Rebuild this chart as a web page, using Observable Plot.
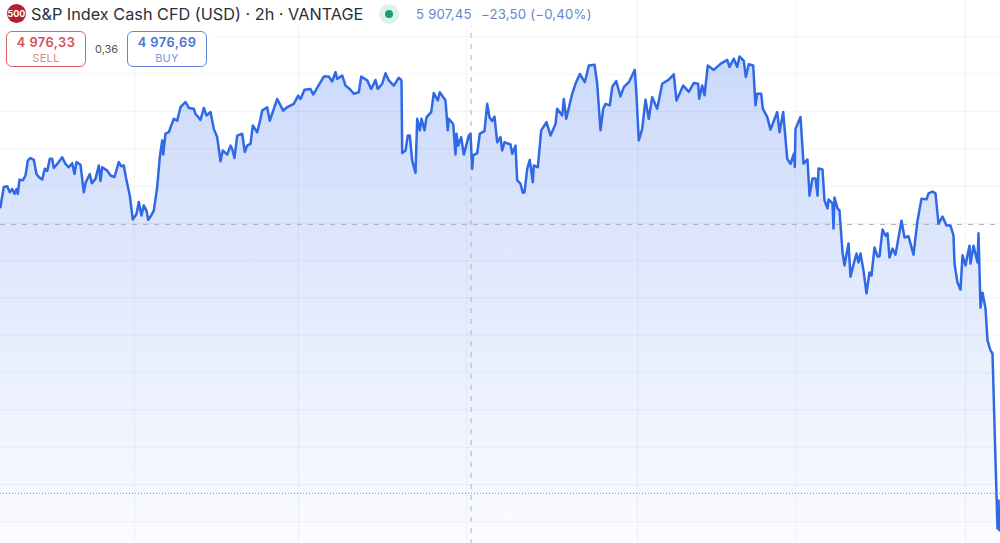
<!DOCTYPE html>
<html>
<head>
<meta charset="utf-8">
<script src="https://cdn.jsdelivr.net/npm/d3@7"></script>
<script src="https://cdn.jsdelivr.net/npm/@observablehq/plot@0.6"></script>
<style>
html,body{margin:0;padding:0;background:#fff;overflow:hidden}
body{width:1000px;height:543px;position:relative;font-family:Inter,"Liberation Sans",sans-serif}
#chart svg{display:block}
.abs{position:absolute;white-space:nowrap}
.box{position:absolute;box-sizing:border-box;top:31px;width:80px;height:36px;border-radius:6px;background:#fff;text-align:center;border:1px solid}
.box .p{font-size:12.8px;font-weight:600;line-height:14px;margin-top:4px;letter-spacing:.5px}
.box .s{font-size:11px;line-height:14px;margin-top:1px;letter-spacing:.3px}
</style>
</head>
<body>
<div id="chart"></div>
<div class="abs" style="left:0;top:0;width:600px;height:26px;background:#fff"></div>
<div class="abs" style="left:0;top:26px;width:212px;height:46px;background:#fff"></div>
<div class="abs" style="left:7px;top:4px;width:19px;height:19px;border-radius:50%;background:#b81f2e;color:#fff;font-size:9px;font-weight:700;line-height:19px;text-align:center">500</div>
<div class="abs" style="left:31px;top:4px;font-size:16.25px;line-height:20px;color:#2a2e39">S&amp;P Index Cash CFD (USD) · 2h · VANTAGE</div>
<div class="abs" style="left:379px;top:4px;width:20px;height:20px;border-radius:50%;background:#dcf3ed"></div>
<div class="abs" style="left:385px;top:10px;width:8px;height:8px;border-radius:50%;background:#1b9b7a"></div>
<div class="abs" style="left:416px;top:6px;font-size:13.2px;line-height:17px;color:#5f87cc;letter-spacing:.2px">5 907,45</div>
<div class="abs" style="left:481px;top:6px;font-size:13.2px;line-height:17px;color:#5f87cc;letter-spacing:.2px">−23,50 (−0,40%)</div>
<div class="box" style="left:6px;border-color:#d9636e"><div class="p" style="color:#d4505c">4 976,33</div><div class="s" style="color:#e0868e">SELL</div></div>
<div class="abs" style="left:95px;top:42px;font-size:11px;line-height:14px;color:#555">0,36</div>
<div class="box" style="left:127px;border-color:#5f86d8"><div class="p" style="color:#4a74cf">4 976,69</div><div class="s" style="color:#7b9ad8">BUY</div></div>
<script>
const bars = [0,1,3.3,6.7,9.3,11.7,14,16,17.3,19,22.3,25,27.3,30,33.3,36,38.3,41.7,44.3,46.7,49.3,51.7,53.3,56.7,61.7,65,68.3,71.7,74,76,80,83.3,85.3,89.3,91.3,95,98.3,100,101.7,106.7,110,114,118.3,120.7,123.3,126,129.3,132.3,136,138.3,141,143.3,146,147.7,150.7,153.3,156.7,159.3,161.7,162.7,165,168.3,173.3,176.7,180,185,188.3,193.3,195,200,203.3,206,210,213.3,216.7,220,222.3,226.7,230,231.7,234,236.7,241.7,244.3,246.7,250,252.3,256.7,260,261.7,266.7,269.3,276.7,282.7,286.7,293.3,297.7,
300,304,310,312.7,320,323.3,328.3,331.7,335,336.7,341.7,345,350,353.3,358.3,360.7,366.7,370.7,375,377.3,381.7,385,388.3,393.3,398.3,401,401.7,405,407.3,409.3,411.7,415,416.7,419.3,421,424,426,430.7,433.3,437.3,439.3,445,447.3,448.3,452.7,455,456,457.7,460.7,463.3,468.3,470,471.7,472.7,476.7,479.3,484,486.7,489,491.7,494,496.7,500,501.7,504,510,511.7,515,516.7,520,522.3,524,526.7,529.3,532.3,533.3,537.3,540.7,546,550,555,556.7,561.7,563.3,565.7,571.7,575,579.3,584.3,588.3,594,596.7,
600,602.7,605,609.3,611.7,615.7,620,623.3,628.3,634.3,636,638.3,641.7,645,648.3,651.7,656.7,661.7,668.3,673.3,676,682.7,688.3,693.3,697.7,698.7,701.7,704,707.3,713.3,720,726.7,729,733.3,736.7,739,743.3,745.3,748.3,752.7,755,756.7,760.7,762.3,766.7,770,776.7,779,782.7,786.7,790,793.3,794.3,795,800,
803,807,809,812,815,817,818,822,824,827,828,832,833,834,837,839,842,844,848,850,853,856,858,860,863,866,869,871,874,877,879,882,885,887,889,892,895,901,904,908,913,917,921,926,928,932,935,938,942,946,950,953,954,957,960,962,965,969,970,973,977,978,980,982,985,987,990,992,995,997,998,999,1000];
const prices = [5743,5761,5797,5799,5783,5792,5779,5792,5779,5817,5815,5828,5868,5875,5870,5832,5824,5817,5846,5840,5873,5873,5848,5859,5877,5859,5850,5861,5832,5864,5857,5783,5810,5832,5807,5819,5855,5813,5850,5841,5828,5824,5864,5853,5855,5815,5774,5710,5725,5757,5721,5748,5734,5709,5721,5734,5797,5877,5922,5884,5940,5944,5980,5975,6011,6025,6009,6007,5993,5977,6009,5989,5998,5953,5931,5866,5895,5884,5908,5899,5875,5935,5940,5891,5908,5913,5962,5944,5980,6002,6011,5975,6033,6002,6011,6020,6042,
6033,6058,6060,6045,6078,6093,6093,6080,6105,6087,6096,6069,6058,6047,6051,6093,6083,6060,6084,6060,6074,6102,6083,6069,6090,6083,5888,5895,5935,5935,5868,5835,5980,5949,5980,5949,5984,5998,6049,6029,6051,6029,5949,5980,5966,5884,5940,5908,5931,5884,5935,5940,5846,5882,5888,5940,5947,6020,5984,5974,5986,5917,5931,5895,5917,5911,5886,5908,5815,5806,5782,5783,5846,5870,5810,5855,5850,5949,5971,5935,5966,6007,5989,6033,5980,6047,6074,6100,6078,6123,6125,6074,
5949,6007,6020,6016,6065,6081,6040,6065,6078,6111,6043,5922,5953,6031,5980,6038,6007,6074,6085,6099,6029,6069,6052,6076,6074,6034,6069,6043,6123,6111,6127,6138,6119,6141,6119,6147,6135,6092,6126,6123,6016,6047,6047,6007,5985,5951,5998,5944,5998,5873,5859,5886,5851,5953,5985,
5860,5871,5774,5820,5820,5774,5847,5844,5761,5740,5764,5753,5686,5769,5740,5734,5622,5587,5646,5557,5589,5619,5595,5619,5573,5512,5568,5560,5635,5611,5611,5683,5667,5673,5608,5632,5616,5707,5662,5665,5616,5707,5766,5764,5780,5785,5780,5699,5718,5694,5694,5667,5592,5541,5522,5614,5587,5640,5592,5640,5595,5673,5474,5514,5472,5386,5359,5351,5064,4882,4957,4877,4890];
const priceTicks = [6200,6100,6000,5900,5800,5700,5600,5500,5400,5300,5200,5100,5000,4900];
const barTicks = [134,298,466,637,795,965];
const prevClose = 5697;
const sellPrice = 4976.33;
const cursorBar = 470.5;
const xDomain = [0,1000];
const yDomain = [4841.8,6297];

const rows = bars.map((b,i)=>({b,p:prices[i]}));
const gridColor = "rgba(70,90,130,0.065)";
const chart = Plot.plot({
  width:1000,height:543,margin:0,
  style:{background:"transparent",display:"block"},
  x:{domain:xDomain,range:[0,1000],axis:null},
  y:{domain:yDomain,range:[543,0],axis:null},
  marks:[
    Plot.areaY(rows,{x:"b",y1:yDomain[0],y2:"p",fill:"url(#areaFill)"}),
    Plot.ruleY(priceTicks,{stroke:gridColor,strokeWidth:1}),
    Plot.ruleX(barTicks,{stroke:gridColor,strokeWidth:1}),
    Plot.ruleY([prevClose],{stroke:"#ababab",strokeWidth:1,strokeDasharray:"5,6"}),
    Plot.ruleY([sellPrice],{stroke:"#8593ad",strokeWidth:1,strokeDasharray:"1,2"}),
    Plot.ruleX([cursorBar],{stroke:"#b0b0b0",strokeWidth:1,strokeDasharray:"5,6"}),
    Plot.lineY(rows,{x:"b",y:"p",stroke:"#2f69e6",strokeWidth:2.5,strokeLinejoin:"round"})
  ]
});
const ns="http://www.w3.org/2000/svg";
const defs=document.createElementNS(ns,"defs");
defs.innerHTML='<linearGradient id="areaFill" x1="0" y1="0" x2="0" y2="1"><stop offset="0" stop-color="#cbd9fb"/><stop offset="1" stop-color="#fbfcff"/></linearGradient>';
chart.insertBefore(defs,chart.firstChild);
document.getElementById("chart").appendChild(chart);
</script>
</body>
</html>
